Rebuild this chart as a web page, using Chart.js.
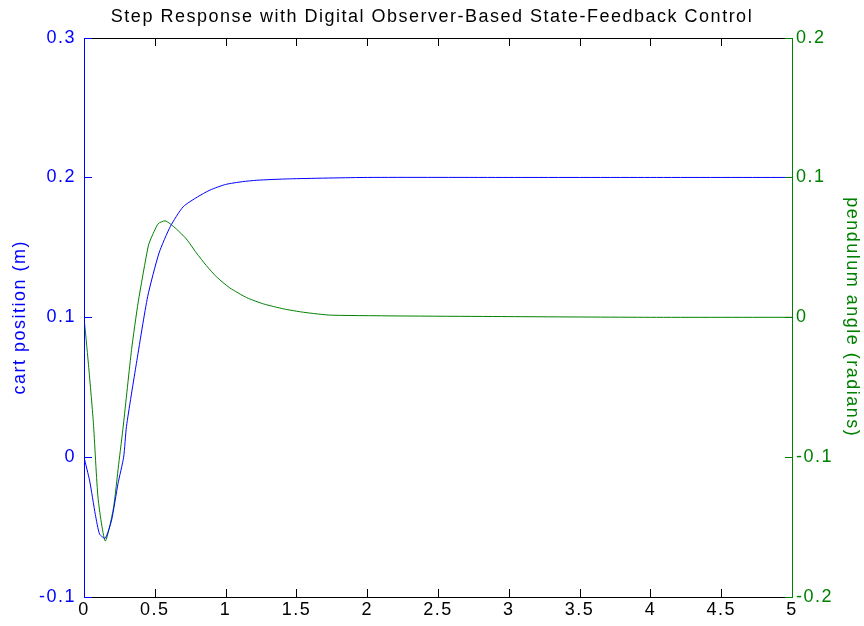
<!DOCTYPE html>
<html>
<head>
<meta charset="utf-8">
<script src="https://cdn.jsdelivr.net/npm/chart.js@4/dist/chart.umd.min.js"></script>
<style>
  html, body { margin: 0; padding: 0; background: #fff; }
  #wrap { width: 864px; height: 626px; }
</style>
</head>
<body>
<div id="wrap"><canvas id="c" width="864" height="626"></canvas></div>
<script>
// time samples (s) and cart position (m)
const tCart = [0, 0.04, 0.08, 0.11, 0.15, 0.195, 0.24, 0.28, 0.30, 0.37, 0.45, 0.53, 0.61, 0.70, 0.80, 0.89, 1.0, 1.12, 1.22, 1.45, 2, 3, 4, 5];
const cartPos = [0, -0.017, -0.041, -0.055, -0.058, -0.045, -0.019, 0, 0.022, 0.067, 0.115, 0.146, 0.165, 0.179, 0.186, 0.191, 0.195, 0.197, 0.198, 0.199, 0.2, 0.2, 0.2, 0.2];

// time samples (s) and pendulum angle (rad)
const tPend = [0, 0.03, 0.066, 0.10, 0.15, 0.207, 0.245, 0.278, 0.336, 0.383, 0.454, 0.48, 0.525, 0.572, 0.607, 0.654, 0.723, 0.794, 0.864, 0.935, 1.03, 1.15, 1.27, 1.41, 1.55, 1.75, 3, 4, 5];
const pendAngle = [0, -0.032, -0.075, -0.13, -0.16, -0.137, -0.105, -0.077, -0.023, 0.011, 0.051, 0.058, 0.067, 0.069, 0.067, 0.063, 0.056, 0.046, 0.037, 0.029, 0.021, 0.014, 0.0095, 0.006, 0.0036, 0.0015, 0.0005, 0, 0];

// tick values
const xTicks = [0, 0.5, 1, 1.5, 2, 2.5, 3, 3.5, 4, 4.5, 5];
const cartTicks = [-0.1, 0, 0.1, 0.2, 0.3];
const pendTicks = [-0.2, -0.1, 0, 0.1, 0.2];

const blue = '#0000ff';
const green = '#008000';
const font = '"Liberation Sans", Arial, Helvetica, sans-serif';

// matlab-style frame with inward ticks
const frame = {
  id: 'frame',
  beforeDraw(chart) {
    chart.ctx.letterSpacing = '1.5px';
  },
  afterDraw(chart) {
    const ctx = chart.ctx;
    const a = chart.chartArea;
    const L = Math.round(a.left), R = Math.round(a.right);
    const T = Math.round(a.top), B = Math.round(a.bottom);
    const len = 8;
    const sx = chart.scales.x, sy = chart.scales.y, sy1 = chart.scales.y1;
    ctx.save();
    ctx.fillStyle = '#000';
    ctx.fillRect(L, T, R - L + 1, 1);
    ctx.fillRect(L, B, R - L + 1, 1);
    xTicks.forEach(v => {
      const px = Math.round(sx.getPixelForValue(v));
      ctx.fillRect(px, B - len, 1, len);
      ctx.fillRect(px, T, 1, len);
    });
    ctx.fillStyle = blue;
    ctx.fillRect(L, T, 1, B - T + 1);
    cartTicks.forEach(v => {
      const py = Math.round(sy.getPixelForValue(v));
      ctx.fillRect(L, py, len, 1);
    });
    ctx.fillStyle = green;
    ctx.fillRect(R, T, 1, B - T + 1);
    pendTicks.forEach(v => {
      const py = Math.round(sy1.getPixelForValue(v));
      ctx.fillRect(R - len + 1, py, len, 1);
    });
    ctx.restore();
  }
};

const fmt = v => String(+v.toFixed(2));
const setTicks = vals => s => { s.ticks = vals.map(v => ({ value: v })); };

new Chart(document.getElementById('c'), {
  type: 'line',
  data: {
    datasets: [
      {
        label: 'cart position',
        data: tCart.map((t, i) => ({ x: t, y: cartPos[i] })),
        borderColor: blue,
        borderWidth: 1,
        pointRadius: 0,
        tension: 0.2,
        yAxisID: 'y'
      },
      {
        label: 'pendulum angle',
        data: tPend.map((t, i) => ({ x: t, y: pendAngle[i] })),
        borderColor: green,
        borderWidth: 1,
        pointRadius: 0,
        tension: 0.2,
        yAxisID: 'y1'
      }
    ]
  },
  options: {
    responsive: false,
    animation: false,
    layout: { padding: 0 },
    plugins: {
      legend: { display: false },
      tooltip: { enabled: false },
      title: {
        display: true,
        text: 'Step Response with Digital Observer-Based State-Feedback Control',
        color: '#000',
        font: { family: font, size: 18, weight: 'normal' },
        padding: { top: 6, bottom: 10 }
      }
    },
    scales: {
      x: {
        type: 'linear',
        min: 0, max: 5,
        grid: { display: false, drawTicks: false },
        border: { display: false },
        afterBuildTicks: setTicks(xTicks),
        ticks: { color: '#000', padding: 2, maxRotation: 0, autoSkip: false, font: { family: font, size: 18 }, callback: fmt },
        afterFit: s => { s.height = 29; }
      },
      y: {
        position: 'left',
        min: -0.1, max: 0.3,
        grid: { display: false, drawTicks: false },
        border: { display: false },
        afterBuildTicks: setTicks(cartTicks),
        ticks: { color: blue, padding: 8, autoSkip: false, font: { family: font, size: 18 }, callback: fmt },
        title: { display: true, text: 'cart position (m)', color: blue, font: { family: font, size: 18 }, padding: { top: 9, bottom: 0 } },
        afterFit: s => { s.width = 84; }
      },
      y1: {
        position: 'right',
        min: -0.2, max: 0.2,
        grid: { display: false, drawTicks: false },
        border: { display: false },
        afterBuildTicks: setTicks(pendTicks),
        ticks: { color: green, padding: 4, autoSkip: false, font: { family: font, size: 18 }, callback: fmt },
        title: { display: true, text: 'pendulum angle (radians)', color: green, font: { family: font, size: 18 }, padding: { top: 1, bottom: 0 } },
        afterFit: s => { s.width = 72; }
      }
    }
  },
  plugins: [frame]
});
</script>
</body>
</html>
